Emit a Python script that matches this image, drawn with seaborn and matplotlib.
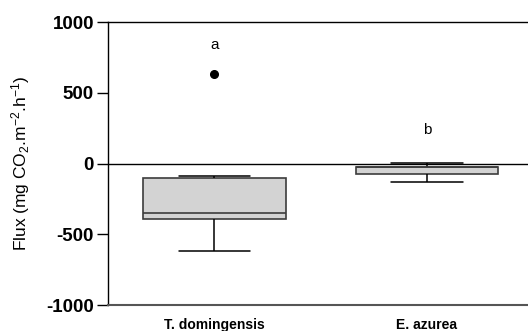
import pandas as pd
import matplotlib
matplotlib.use("Agg")
import matplotlib.pyplot as plt
import seaborn as sns

# Data (estimated from the figure)
species = ["T. domingensis", "E. azurea"]
flux_typha = [-616, -470, -392, -370, -348, -200, -105, -88, 630]
flux_eich = [-130, -95, -71, -60, -24, -23, -22, -5, 4]
letters = ["a", "b"]
letter_y = [835, 237]

df = pd.DataFrame({
    "species": [species[0]] * len(flux_typha) + [species[1]] * len(flux_eich),
    "flux": flux_typha + flux_eich,
})

sns.set_theme(style="ticks")
plt.rcParams["font.family"] = ["Liberation Sans", "DejaVu Sans"]
plt.rcParams["axes.unicode_minus"] = False
plt.rcParams["mathtext.default"] = "regular"

fig = plt.figure(figsize=(5.28, 3.31), dpi=100)
ax = fig.add_axes([0.2045, 0.0785, 0.7955, 0.855])

ax.axhline(0, color="black", lw=1, zorder=1)

sns.boxplot(data=df, x="species", y="flux", order=species, ax=ax,
            width=0.67, color="#d3d3d3", saturation=1, linewidth=1.2,
            boxprops=dict(facecolor="#d3d3d3", edgecolor="#3c3c3c"),
            medianprops=dict(color="#3c3c3c", lw=1.2),
            whiskerprops=dict(color="black", lw=1.1),
            capprops=dict(color="black", lw=1.1),
            flierprops=dict(marker="o", markerfacecolor="black",
                            markeredgecolor="black", markersize=5.5),
            zorder=2)

for i, (lab, y) in enumerate(zip(letters, letter_y)):
    ax.text(i, y, lab, ha="center", va="center", fontsize=11, color="black")

ax.set_ylim(-1000, 1000)
ax.set_xlim(-0.5, 1.475)
ax.set_yticks([-1000, -500, 0, 500, 1000])
ax.tick_params(axis="y", labelsize=13.5, length=8, width=1, direction="out",
               color="black", labelcolor="black", pad=2)
ax.tick_params(axis="x", length=0, labelsize=10, pad=9, labelcolor="black")
for t in ax.get_yticklabels() + ax.get_xticklabels():
    t.set_fontweight("bold")

ax.set_xlabel("")
ax.set_ylabel("Flux (mg CO$_2$.m$^{-2}$.h$^{-1}$)", fontsize=12.5,
              color="black", labelpad=10)

for s in ["left", "top", "bottom"]:
    ax.spines[s].set_color("black")
    ax.spines[s].set_linewidth(1)
ax.spines["bottom"].set_color("#555555")
ax.spines["bottom"].set_linewidth(1.5)
ax.spines["right"].set_visible(False)

fig.savefig("out.png", dpi=100)
